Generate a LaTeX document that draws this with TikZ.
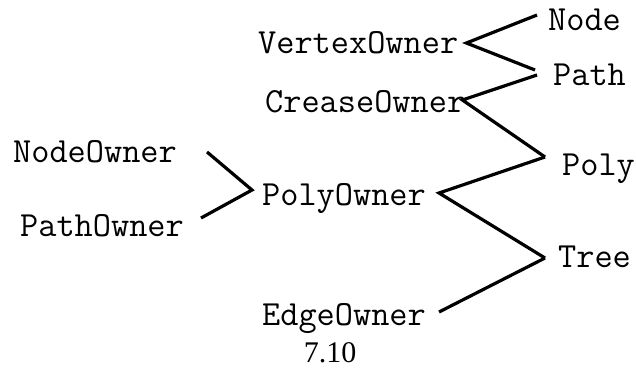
\documentclass[tikz,border=0pt]{standalone}
\usepackage{fontspec}
\setmainfont{Liberation Serif}
\usetikzlibrary{calc}

\begin{document}
\begin{tikzpicture}[x=1pt,y=-1pt]
    \tikzset{owner/.style = {inner sep=0pt,font=\fontsize{35.3}{40}\selectfont\ttfamily}}
    \tikzset{edge/.style = {-,line width=3.2pt,line join=miter}}
    \useasboundingbox (0,0) rectangle (636,368);

    % owners
    \node[owner,anchor=base west] (vo) at (258,53) {VertexOwner};
    \node[owner,anchor=base west] (co) at (265,112) {CreaseOwner};
    \node[owner,anchor=base west] (no) at (13,162) {NodeOwner};
    \node[owner,anchor=base west] (po) at (262,205) {PolyOwner};
    \node[owner,anchor=base west] (pao) at (20,236) {PathOwner};
    \node[owner,anchor=base west] (eo) at (262,325) {EdgeOwner};

    % types
    \node[owner,anchor=base west] (nd) at (548,30) {Node};
    \node[owner,anchor=base west] (pa) at (553,85) {Path};
    \node[owner,anchor=base west] (py) at (562,175) {Poly};
    \node[owner,anchor=base west] (tr) at (558,267) {Tree};

    \node[anchor=base,inner sep=0pt,font=\fontsize{30}{36}\selectfont\rmfamily] (cap) at (330,362) {7.10};

    % edges
    \draw[edge] ($(no.base east)+(30,-10)$) -- ($(po.base west)+(-10,-15)$) -- ($(pao.base east)+(17,-18)$);
    \draw[edge] ($(nd.base west)+(-11,-15)$) -- ($(vo.base east)+(8,-10)$) -- ($(pa.base west)+(-18,-15)$);
    \draw[edge] ($(pa.base west)+(-16,-10)$) -- ($(co.base east)+(-3,-12)$) -- ($(py.base west)+(-17,-18)$);
    \draw[edge] ($(py.base west)+(-17,-18)$) -- ($(po.base east)+(13,-12)$) -- ($(tr.base west)+(-13,-9)$);
    \draw[edge] ($(tr.base west)+(-13,-9)$) -- ($(eo.base east)+(13,-13)$);

\end{tikzpicture}
\end{document}
